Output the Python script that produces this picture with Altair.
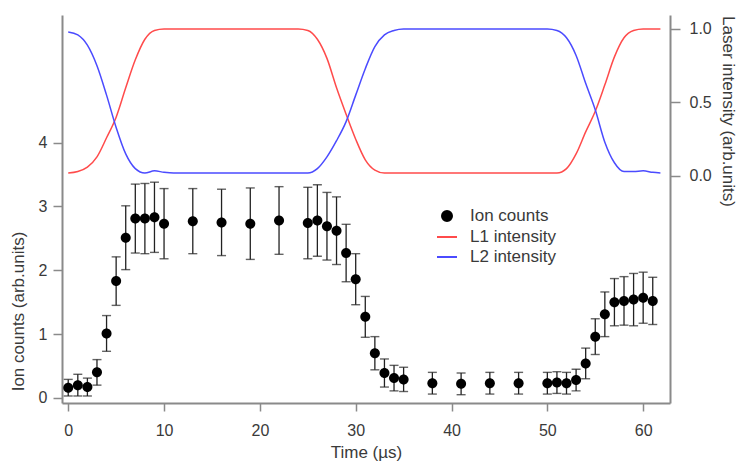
import altair as alt
import pandas as pd

# ---- Ion counts (left axis) ----
ion_time = [0, 1, 2, 3, 4, 5, 6, 7, 8, 9, 10, 13, 16, 19, 22, 25, 26, 27, 28, 29, 30,
            31, 32, 33, 34, 35, 38, 41, 44, 47, 50, 51, 52, 53, 54, 55, 56, 57, 58, 59, 60, 61]
ion_counts = [0.16, 0.20, 0.17, 0.40, 1.01, 1.83, 2.51, 2.81, 2.81, 2.83, 2.73,
              2.77, 2.75, 2.73, 2.78,
              2.74, 2.78, 2.69, 2.62, 2.27, 1.86, 1.27, 0.70, 0.39, 0.31, 0.29,
              0.23, 0.22, 0.23, 0.23,
              0.23, 0.24, 0.23, 0.28, 0.54, 0.96, 1.31, 1.50, 1.52, 1.54, 1.57, 1.52]
ion_err = [0.13, 0.17, 0.14, 0.20, 0.28, 0.38, 0.50, 0.54, 0.55, 0.55, 0.55,
           0.51, 0.52, 0.56, 0.53,
           0.56, 0.56, 0.53, 0.53, 0.45, 0.40, 0.32, 0.26, 0.22, 0.20, 0.19,
           0.17, 0.17, 0.17, 0.17,
           0.17, 0.17, 0.17, 0.17, 0.24, 0.28, 0.35, 0.37, 0.38, 0.41, 0.40, 0.37]

# ---- Laser intensities (right axis) ----
laser_time = [0, 1, 2, 3, 4, 5, 6, 7, 8, 9, 10, 11, 12, 13, 14, 15, 16, 17, 18, 19, 20,
              21, 22, 23, 24, 25, 26, 27, 28, 29, 30, 31, 32, 33, 34, 35, 36, 37, 38, 39, 40,
              41, 42, 43, 44, 45, 46, 47, 48, 49, 50, 51, 52, 53, 54, 55, 56, 57, 58, 59, 60,
              61, 61.8]
l1_intensity = [0.02, 0.03, 0.06, 0.13, 0.26, 0.40, 0.60, 0.79, 0.93, 0.99,
                1.0, 1.0, 1.0, 1.0, 1.0, 1.0, 1.0, 1.0, 1.0, 1.0, 1.0, 1.0, 1.0, 1.0, 1.0,
                0.99, 0.93, 0.80, 0.60, 0.42, 0.25, 0.11, 0.04, 0.02,
                0.02, 0.02, 0.02, 0.02, 0.02, 0.02, 0.02, 0.02, 0.02, 0.02, 0.02, 0.02,
                0.02, 0.02, 0.02, 0.02, 0.02, 0.02,
                0.05, 0.15, 0.30, 0.44, 0.62, 0.81, 0.94, 0.99, 1.0, 1.0,
                1.0]
l2_intensity = [0.98, 0.96, 0.89, 0.75, 0.55, 0.33, 0.15, 0.05, 0.02, 0.035,
                0.025, 0.02, 0.02, 0.02, 0.02, 0.02, 0.02, 0.02, 0.02, 0.02, 0.02, 0.02,
                0.02, 0.02, 0.02, 0.02,
                0.05, 0.13, 0.24, 0.37, 0.55, 0.73, 0.88, 0.96, 0.99, 1.0,
                1.0, 1.0, 1.0, 1.0, 1.0, 1.0, 1.0, 1.0, 1.0, 1.0, 1.0, 1.0, 1.0, 1.0, 1.0,
                0.99, 0.94, 0.82, 0.63, 0.45, 0.23, 0.09, 0.03, 0.03, 0.035, 0.025,
                0.02]

series_names = ["Ion counts", "L1 intensity", "L2 intensity"]
series_colors = ["#000000", "#ff4b4b", "#4b4bff"]
circle_path = "M-0.5,0A0.5,0.5 0 1,1 0.5,0A0.5,0.5 0 1,1 -0.5,0Z"
series_shapes = [circle_path, "stroke", "stroke"]

ion_df = pd.DataFrame({
    "time": ion_time,
    "count": ion_counts,
    "lo": [c - e for c, e in zip(ion_counts, ion_err)],
    "hi": [c + e for c, e in zip(ion_counts, ion_err)],
    "series": "Ion counts",
})
laser_df = pd.concat([
    pd.DataFrame({"time": laser_time, "intensity": l1_intensity, "series": "L1 intensity"}),
    pd.DataFrame({"time": laser_time, "intensity": l2_intensity, "series": "L2 intensity"}),
])

FONT = "Liberation Sans"
TXT = "#3a3a3a"
AX = "#8a8a8a"

legend = alt.Legend(title=None, orient="none", legendX=374, legendY=190,
                    symbolSize=400, symbolStrokeWidth=2, labelFontSize=17,
                    labelFont=FONT, labelColor=TXT, labelOffset=12, rowPadding=1,
                    padding=0)

xscale = alt.Scale(domain=[-0.65, 62.8], nice=False, zero=False)
xaxis = alt.Axis(values=[0, 10, 20, 30, 40, 50, 60], title="Time (µs)", tickSize=8,
                 labelPadding=11, titlePadding=6, grid=False)
x = alt.X("time:Q", scale=xscale, axis=xaxis)

yleft_scale = alt.Scale(domain=[-0.08, 6.0], nice=False, zero=False)
yleft_axis = alt.Axis(values=[0, 1, 2, 3, 4], title="Ion counts (arb.units)", tickSize=9,
                      labelPadding=6, grid=False, titleX=-44, titleY=296,
                      titleAngle=-90, titleAlign="center", titleBaseline="middle")

color = alt.Color("series:N", scale=alt.Scale(domain=series_names, range=series_colors),
                  legend=legend)
shape = alt.Shape("series:N", scale=alt.Scale(domain=series_names, range=series_shapes),
                  legend=legend)

base_ion = alt.Chart(ion_df)
bars = base_ion.mark_rule(color="#222222", strokeWidth=1.3).encode(
    x=x, y=alt.Y("lo:Q", scale=yleft_scale, axis=yleft_axis, title="Ion counts (arb.units)"),
    y2="hi:Q")
cap_lo = base_ion.mark_tick(orient="horizontal", color="#222222", size=9, thickness=1.4).encode(
    x=x, y=alt.Y("lo:Q", scale=yleft_scale, axis=yleft_axis, title="Ion counts (arb.units)"))
cap_hi = base_ion.mark_tick(orient="horizontal", color="#222222", size=9, thickness=1.4).encode(
    x=x, y=alt.Y("hi:Q", scale=yleft_scale, axis=yleft_axis, title="Ion counts (arb.units)"))
pts = base_ion.mark_point(filled=True, size=400, opacity=1).encode(
    x=x,
    y=alt.Y("count:Q", scale=yleft_scale, axis=yleft_axis, title="Ion counts (arb.units)"),
    color=color, shape=shape)

left = alt.layer(bars, cap_lo, cap_hi, pts)

yright = alt.Y("intensity:Q",
               scale=alt.Scale(domain=[-1.544, 1.095], nice=False, zero=False),
               axis=alt.Axis(orient="right", values=[0, 0.5, 1.0], format=".1f",
                             title="Laser intensity (arb.units)", tickSize=10,
                             labelPadding=9, grid=False, titleX=57, titleY=96,
                             titleAngle=90, titleAlign="center", titleBaseline="middle"))
lines = alt.Chart(laser_df).mark_line(strokeWidth=1.5, interpolate="monotone").encode(
    x=x, y=yright, color=color, detail="series:N")

chart = alt.layer(left, lines).resolve_scale(y="independent").properties(
    width=608, height=388,
    autosize=alt.AutoSizeParams(type="none"),
    padding={"left": 62, "top": 15, "right": 71, "bottom": 62},
    background="white",
).configure_view(stroke=None).configure_axis(
    domainColor=AX, domainWidth=2, tickColor=AX, tickWidth=1.5,
    labelFont=FONT, labelFontSize=16, labelColor=TXT,
    titleFont=FONT, titleFontSize=17, titleColor=TXT, titleFontWeight="normal",
)

chart.save("out.html", embed_options={"renderer": "svg", "actions": False})
